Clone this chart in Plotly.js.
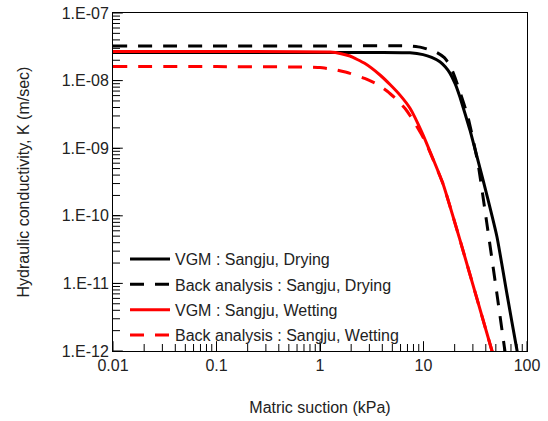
<!DOCTYPE html>
<html>
<head>
<meta charset="utf-8">
<script src="https://cdn.plot.ly/plotly-3.0.1.min.js"></script>
<style>html,body{margin:0;padding:0;background:#fff;}#chart{width:548px;height:421px;}</style>
</head>
<body>
<div id="chart"></div>
<script>
// Series names
const seriesNames = [
  "VGM : Sangju, Drying",
  "Back analysis : Sangju, Drying",
  "VGM : Sangju, Wetting",
  "Back analysis : Sangju, Wetting"
];

// VGM : Sangju, Drying (matric suction kPa, K m/sec)
const vgmDryX = [0.01, 1.0, 3.8, 7.4, 9.9, 12.0, 14.4, 16.2, 18.0, 20.2, 22.5, 28.1, 37.6, 51.3, 64.0, 80.0, 83.4];
const vgmDryK = [2.61e-8, 2.61e-8, 2.61e-8, 2.58e-8, 2.42e-8, 2.20e-8, 1.90e-8, 1.60e-8, 1.29e-8, 9.0e-9, 5.7e-9, 1.86e-9, 3.39e-10, 4.85e-11, 7.0e-12, 1.03e-12, 7.4e-13];

// Back analysis : Sangju, Drying
const backDryX = [0.01, 1.0, 7.4, 9.5, 11.6, 13.5, 15.8, 18.0, 20.2, 22.5, 26.9, 33.6, 40.8, 50.9, 61.2, 63.0];
const backDryK = [3.25e-8, 3.25e-8, 3.25e-8, 3.10e-8, 2.84e-8, 2.60e-8, 2.20e-8, 1.70e-8, 1.10e-8, 6.8e-9, 2.9e-9, 6.0e-10, 8.0e-11, 7.5e-12, 1.0e-12, 7.4e-13];

// VGM : Sangju, Wetting
const vgmWetX = [0.01, 0.1, 1.25, 1.6, 1.95, 2.7, 3.8, 4.8, 5.93, 7.41, 9.68, 15.4, 22.5, 45.9, 48.6];
const vgmWetK = [2.69e-8, 2.69e-8, 2.64e-8, 2.50e-8, 2.31e-8, 1.80e-8, 1.21e-8, 8.6e-9, 6.1e-9, 3.9e-9, 1.7e-9, 3.0e-10, 4.4e-11, 1.0e-12, 7.4e-13];

// Back analysis : Sangju, Wetting
const backWetX = [0.01, 0.1, 0.7, 1.0, 1.4, 1.95, 2.7, 3.56, 4.5, 5.55, 6.7, 7.93, 10.3, 15.4, 22.5, 45.9, 48.6];
const backWetK = [1.61e-8, 1.61e-8, 1.59e-8, 1.56e-8, 1.45e-8, 1.28e-8, 1.08e-8, 8.9e-9, 6.9e-9, 5.2e-9, 3.8e-9, 2.6e-9, 1.3e-9, 3.0e-10, 4.4e-11, 1.0e-12, 7.4e-13];

// Tick labels
const xTickVals = [0.01, 0.1, 1, 10, 100];
const xTickText = ["0.01", "0.1", "1", "10", "100"];
const yTickVals = [1e-12, 1e-11, 1e-10, 1e-9, 1e-8, 1e-7];
const yTickText = ["1.E-12", "1.E-11", "1.E-10", "1.E-09", "1.E-08", "1.E-07"];

// minor tick positions (2..9 within each decade)
function minorTicks(majors) {
  const out = [];
  for (let i = 0; i < majors.length - 1; i++) {
    for (let m = 2; m <= 9; m++) out.push(majors[i] * m);
  }
  return out;
}
const xMinor = minorTicks(xTickVals);
const yMinor = minorTicks(yTickVals);

const dashPat = "14px,11px";
const traces = [
  {x: vgmDryX, y: vgmDryK, name: seriesNames[0], line: {color: "#000000", width: 3}},
  {x: backDryX, y: backDryK, name: seriesNames[1], line: {color: "#000000", width: 3, dash: dashPat}},
  {x: vgmWetX, y: vgmWetK, name: seriesNames[2], line: {color: "#ff0000", width: 3}},
  {x: backWetX, y: backWetK, name: seriesNames[3], line: {color: "#ff0000", width: 3, dash: dashPat}}
].map((t, i) => {
  t.type = "scatter"; t.mode = "lines"; t.legendgroup = "g" + i;
  t.line.shape = "spline"; t.line.smoothing = 0.4;
  return t;
});

// Tick marks drawn as line markers sitting on the bottom / left axis,
// half clipped by the plot area so they point inwards.
const xBase = yTickVals[0];
const yBase = xTickVals[0];
function tickTrace(xs, ys, symbol, size) {
  return {
    type: "scatter", mode: "markers", x: xs, y: ys, cliponaxis: true,
    showlegend: false, hoverinfo: "skip",
    marker: {symbol: symbol, size: size, color: "#000", line: {color: "#000", width: 1}}
  };
}
traces.push(tickTrace(xMinor, xMinor.map(() => xBase), "line-ns", 10));
traces.push(tickTrace(xTickVals, xTickVals.map(() => xBase), "line-ns", 14));
traces.push(tickTrace(yMinor.map(() => yBase), yMinor, "line-ew", 10));
traces.push(tickTrace(yTickVals.map(() => yBase), yTickVals, "line-ew", 14));

const fontFam = "Liberation Sans, Arial, sans-serif";
const layout = {
  width: 548, height: 421,
  margin: {l: 113, r: 21, t: 13, b: 70},
  paper_bgcolor: "#ffffff", plot_bgcolor: "#ffffff",
  font: {family: fontFam, size: 16, color: "#222"},
  showlegend: true,
  legend: {
    x: 0.029, y: 0.322, xanchor: "left", yanchor: "top",
    bgcolor: "rgba(0,0,0,0)", borderwidth: 0,
    font: {family: fontFam, size: 16, color: "#222"},
    traceorder: "grouped", tracegroupgap: 1.5, itemwidth: 40
  },
  xaxis: {
    type: "log", range: [-2, 2],
    showgrid: false, zeroline: false,
    showline: true, linecolor: "#000", linewidth: 1, mirror: true,
    ticks: "inside", ticklen: 7, tickcolor: "#000", tickwidth: 1,
    tickmode: "array", tickvals: xTickVals, ticktext: xTickText,
    title: {text: "Matric suction (kPa)", font: {size: 16, color: "#222"}, standoff: 28}
  },
  yaxis: {
    type: "log", range: [-12, -7],
    showgrid: false, zeroline: false,
    showline: true, linecolor: "#000", linewidth: 1, mirror: true,
    ticks: "inside", ticklen: 7, tickcolor: "#000", tickwidth: 1,
    tickmode: "array", tickvals: yTickVals, ticktext: yTickText,
    title: {text: "Hydraulic conductivity, K (m/sec)", font: {size: 16, color: "#222"}, standoff: 28}
  }
};

Plotly.newPlot("chart", traces, layout, {displayModeBar: false});
</script>
</body>
</html>
